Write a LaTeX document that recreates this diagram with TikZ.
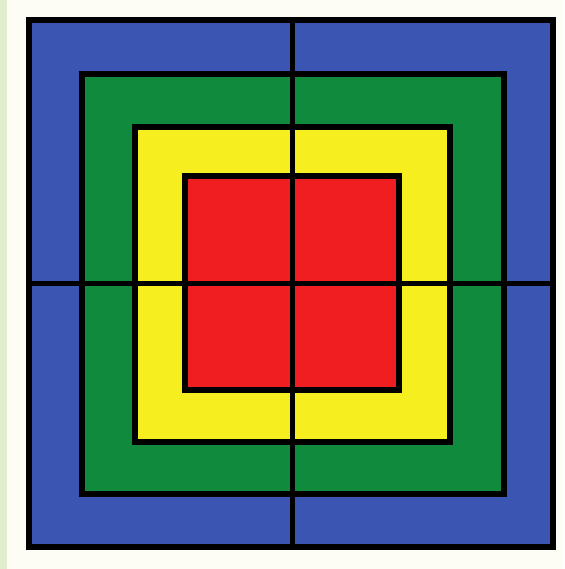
\documentclass[tikz,border=0pt]{standalone}
\begin{document}
\begin{tikzpicture}[x=1pt,y=-1pt,
  ring/.style={draw=black,line width=6pt},
  crossline/.style={draw=black,line width=5pt}]
\useasboundingbox (0,0) rectangle (564,569);
\fill[fill={rgb,255:red,253;green,253;blue,246}] (0,0) rectangle (564,569);
\fill[fill={rgb,255:red,226;green,237;blue,208}] (0,0) rectangle (7,569);
\path[ring,fill={rgb,255:red,58;green,86;blue,178}] (29,20) rectangle (553,547);
\path[ring,fill={rgb,255:red,16;green,138;blue,60}] (82,74) rectangle (504,494);
\path[ring,fill={rgb,255:red,246;green,238;blue,30}] (135,127) rectangle (450,442);
\path[ring,fill={rgb,255:red,240;green,30;blue,32}] (185,176) rectangle (399,390);
\coordinate (top) at (292,20);
\coordinate (bottom) at (292,547);
\coordinate (left) at (29,283);
\coordinate (right) at (553,283);
\path[crossline] (top) -- (bottom);
\path[crossline] (left) -- (right);
\end{tikzpicture}
\end{document}
